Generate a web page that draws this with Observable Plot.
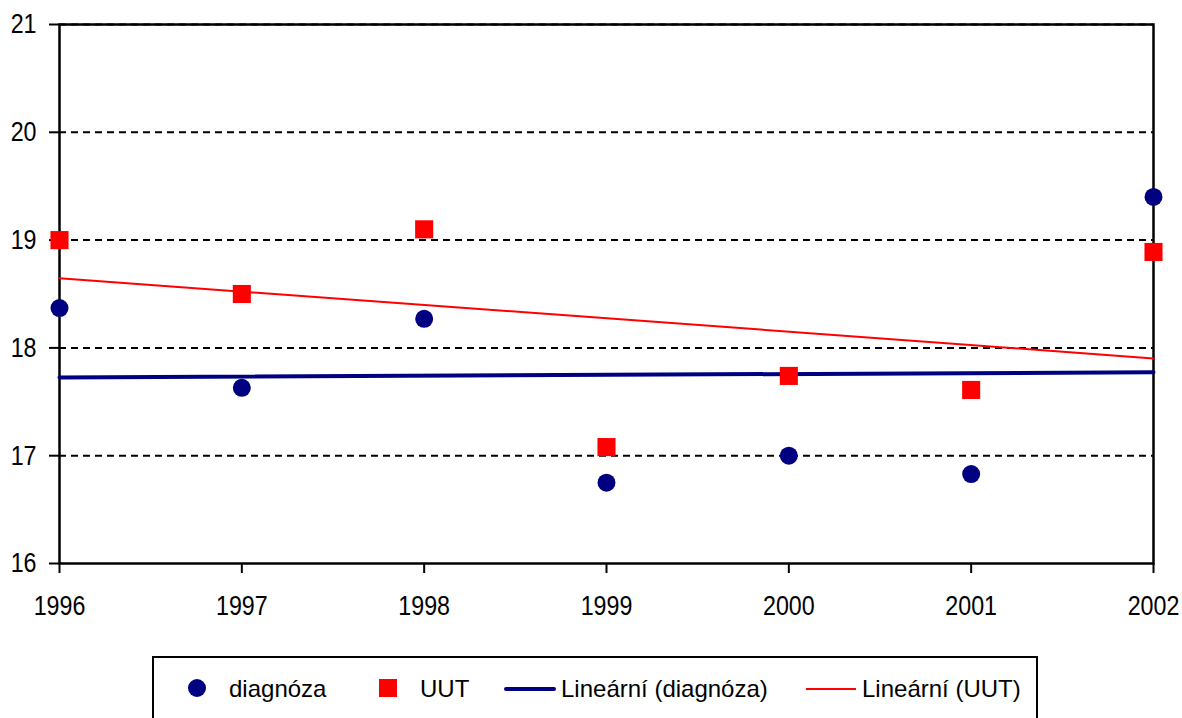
<!DOCTYPE html>
<html>
<head>
<meta charset="utf-8">
<script src="https://cdn.jsdelivr.net/npm/d3@7"></script>
<script src="https://cdn.jsdelivr.net/npm/@observablehq/plot@0.6"></script>
<style>
  html, body { margin: 0; padding: 0; background: #fff; }
  body { position: relative; width: 1182px; height: 718px; overflow: hidden;
         font-family: "Liberation Sans", Arial, sans-serif; }
  #legend {
    position: absolute; left: 152px; top: 656px; width: 886px; height: 80px;
    border: 2px solid #000; box-sizing: border-box; background: #fff;
  }
  .sw { position: absolute; }
  .lt { position: absolute; top: 677px; font-size: 24px; line-height: 24px; color: #000; white-space: nowrap; }
</style>
</head>
<body>
<div id="chart"></div>
<div id="legend"></div>
<span class="sw" style="left:188px;top:679px;width:18px;height:18px;border-radius:50%;background:#000080"></span>
<span class="lt" style="left:229px">diagnóza</span>
<span class="sw" style="left:379px;top:679px;width:18px;height:18px;background:#ff0000"></span>
<span class="lt" style="left:420px">UUT</span>
<span class="sw" style="left:504px;top:687px;width:52px;height:4px;border-radius:2px;background:#000080"></span>
<span class="lt" style="left:561px">Lineární (diagnóza)</span>
<span class="sw" style="left:806px;top:688px;width:50px;height:2px;background:#ff0000"></span>
<span class="lt" style="left:862px">Lineární (UUT)</span>
<script>
const years = [1996, 1997, 1998, 1999, 2000, 2001, 2002];
const diagnoza = [18.37, 17.63, 18.27, 16.75, 17.0, 16.83, 19.40];
const uut = [19.0, 18.5, 19.1, 17.08, 17.74, 17.61, 18.89];
const yTicks = [16, 17, 18, 19, 20, 21];
const gridTicks = [17, 18, 19, 20, 21];

const dData = years.map((x, i) => ({x, y: diagnoza[i]}));
const uData = years.map((x, i) => ({x, y: uut[i]}));
const fmt = d => String(d);

const chart = Plot.plot({
  width: 1182,
  height: 645,
  marginLeft: 59,
  marginRight: 29,
  marginTop: 24,
  marginBottom: 82,
  style: {fontFamily: "'Liberation Sans', Arial, sans-serif", fontSize: "28px", color: "#000", background: "#fff"},
  x: {domain: [1996, 2002], label: null},
  y: {domain: [16, 21], label: null},
  marks: [
    Plot.ruleY(gridTicks, {stroke: "#000", strokeWidth: 2, strokeDasharray: "7,5"}),
    Plot.axisX({ticks: years, tickFormat: fmt, tickSize: 10, tickPadding: 22, strokeWidth: 2, fontSize: 28, label: null}),
    Plot.axisY({ticks: yTicks, tickFormat: fmt, tickSize: 10, tickPadding: 13, strokeWidth: 2, fontSize: 28, label: null}),
    Plot.frame({stroke: "#000", strokeWidth: 2.5}),
    Plot.linearRegressionY(dData, {x: "x", y: "y", stroke: "#000080", strokeWidth: 4, ci: 0}),
    Plot.linearRegressionY(uData, {x: "x", y: "y", stroke: "#ff0000", strokeWidth: 2, ci: 0}),
    Plot.dot(dData, {x: "x", y: "y", r: 9, fill: "#000080", stroke: null}),
    Plot.dot(uData, {x: "x", y: "y", r: 10.2, symbol: "square", fill: "#ff0000", stroke: null})
  ]
});
document.getElementById("chart").appendChild(chart);
// condense the axis tick labels horizontally, like the reference's narrow digits
chart.querySelectorAll('g[aria-label="x-axis tick label"] text, g[aria-label="y-axis tick label"] text').forEach(t => {
  const tr = t.getAttribute("transform") || "";
  t.setAttribute("transform", (tr + " scale(0.83,1)").trim());
});
</script>
</body>
</html>
